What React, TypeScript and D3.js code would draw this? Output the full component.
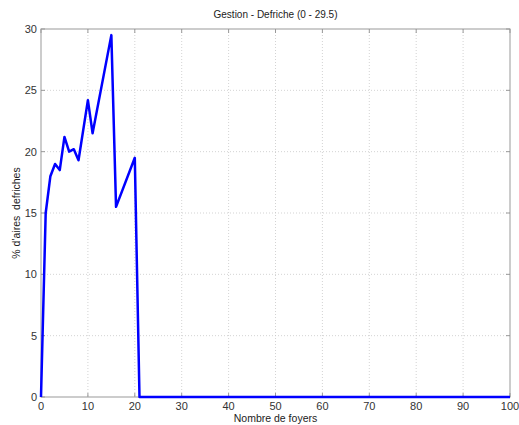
import React from "react";
import * as d3 from "d3";

const xValues = [0, 1, 2, 3, 4, 5, 6, 7, 8, 10, 11, 15, 16, 20, 21, 100];
const yValues = [0, 15, 18, 19, 18.5, 21.2, 20, 20.2, 19.3, 24.2, 21.5, 29.5, 15.5, 19.5, 0, 0];
const xTicks = [0, 10, 20, 30, 40, 50, 60, 70, 80, 90, 100];
const yTicks = [0, 5, 10, 15, 20, 25, 30];
const title = "Gestion - Defriche (0 - 29.5)";
const xLabel = "Nombre de foyers";
const yLabel = "% d'aires  defriches";

const W = 519, H = 425;
const L = 41, R = 510, T = 29, B = 397;

export default function App() {
  const x = d3.scaleLinear().domain([0, 100]).range([L, R]);
  const y = d3.scaleLinear().domain([0, 30]).range([B, T]);
  const pts = xValues.map((v, i) => [v, yValues[i]] as [number, number]);
  const line = d3.line<[number, number]>().x(d => x(d[0])).y(d => y(d[1]));
  const font = "Arial, 'Liberation Sans', sans-serif";
  const tk = 4;
  return (
    <svg width={W} height={H} style={{ position: "absolute", left: 0, top: 0, background: "#fff" }} fontFamily={font}>
      <rect x={0} y={0} width={W} height={H} fill="#fff" />
      {xTicks.slice(1, -1).map(t => (
        <line key={"gx" + t} x1={x(t)} x2={x(t)} y1={T} y2={B} stroke="#c8c8c8" strokeWidth={0.8} strokeDasharray="1,2" />
      ))}
      {yTicks.slice(1, -1).map(t => (
        <line key={"gy" + t} x1={L} x2={R} y1={y(t)} y2={y(t)} stroke="#c8c8c8" strokeWidth={0.8} strokeDasharray="1,2" />
      ))}
      <rect x={L} y={T} width={R - L} height={B - T} fill="none" stroke="#999" strokeWidth={1} />
      {xTicks.map(t => (
        <g key={"tx" + t}>
          <line x1={x(t)} x2={x(t)} y1={B} y2={B - tk} stroke="#999" />
          <line x1={x(t)} x2={x(t)} y1={T} y2={T + tk} stroke="#999" />
          <text x={x(t)} y={B + 13} fontSize={11} textAnchor="middle" fill="#333">{t}</text>
        </g>
      ))}
      {yTicks.map(t => (
        <g key={"ty" + t}>
          <line x1={L} x2={L + tk} y1={y(t)} y2={y(t)} stroke="#999" />
          <line x1={R} x2={R - tk} y1={y(t)} y2={y(t)} stroke="#999" />
          <text x={L - 4} y={y(t) + 4} fontSize={11} textAnchor="end" fill="#333">{t}</text>
        </g>
      ))}
      <path d={line(pts) || ""} fill="none" stroke="#0000ff" strokeWidth={2.5} strokeLinejoin="round" />
      <text x={(L + R) / 2} y={18} fontSize={10} textAnchor="middle" fill="#222">{title}</text>
      <text x={(L + R) / 2} y={422} fontSize={10.5} textAnchor="middle" fill="#222">{xLabel}</text>
      <text transform={`translate(20,${(T + B) / 2}) rotate(-90)`} fontSize={10.5} textAnchor="middle" fill="#222" style={{ whiteSpace: "pre" }}>{yLabel}</text>
    </svg>
  );
}
